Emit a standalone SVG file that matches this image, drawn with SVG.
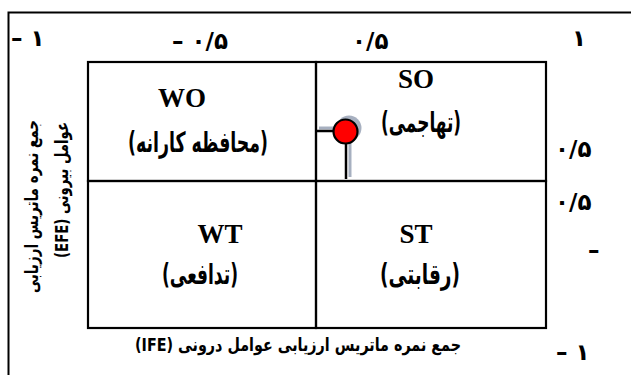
<svg xmlns="http://www.w3.org/2000/svg" width="631" height="375" viewBox="0 0 631 375">
  <style>
    .frame { fill: none; stroke: #000; stroke-width: 2; }
    .grid { fill: none; stroke: #000; stroke-width: 2.2; }
    .num { font-family: "DejaVu Sans", sans-serif; font-weight: bold; font-size: 23px; fill: #000; }
    .code { font-family: "Liberation Serif", serif; font-weight: bold; font-size: 27px; fill: #000; text-anchor: middle; }
    .fa { font-family: "DejaVu Sans", sans-serif; font-weight: bold; font-size: 28px; fill: #000; text-anchor: middle; direction: rtl; }
    .axis { font-family: "DejaVu Sans", sans-serif; font-weight: bold; font-size: 18px; fill: #000; direction: rtl; }
    .shadow { stroke: #a7b0c0; }
  </style>

  <!-- outer frame: only left and top edges fall inside the canvas -->
  <path class="frame" d="M8.5,375 V12.5 H631"/>

  <!-- scale labels along the top -->
  <g id="top-scale">
    <text class="num" x="11" y="46">– ۱</text>
    <text class="num" x="172" y="49">– ۰/۵</text>
    <text class="num" x="352" y="49">۰/۵</text>
    <text class="num" x="572" y="46">۱</text>
  </g>

  <!-- scale labels along the right -->
  <g id="right-scale">
    <text class="num" x="555" y="157">۰/۵</text>
    <text class="num" x="555" y="210">۰/۵</text>
    <text class="num" x="588" y="258">–</text>
    <text class="num" x="556" y="360">– ۱</text>
  </g>

  <!-- quadrants -->
  <g id="WO">
    <rect class="grid" x="88" y="62" width="228" height="119"/>
    <text class="code" x="182" y="107">WO</text>
    <text class="fa" x="198" y="152" textLength="140" lengthAdjust="spacingAndGlyphs">(محافظه کارانه)</text>
  </g>
  <g id="SO">
    <rect class="grid" x="316" y="62" width="230" height="119"/>
    <text class="code" x="416" y="88">SO</text>
    <text class="fa" x="421" y="132" textLength="80" lengthAdjust="spacingAndGlyphs">(تهاجمی)</text>
  </g>
  <g id="WT">
    <rect class="grid" x="88" y="181" width="228" height="147"/>
    <text class="code" x="220" y="243">WT</text>
    <text class="fa" x="200" y="284" textLength="76" lengthAdjust="spacingAndGlyphs">(تدافعی)</text>
  </g>
  <g id="ST">
    <rect class="grid" x="316" y="181" width="230" height="147"/>
    <text class="code" x="416" y="243">ST</text>
    <text class="fa" x="420" y="284" textLength="80" lengthAdjust="spacingAndGlyphs">(رقابتی)</text>
  </g>

  <!-- position marker with its drop shadow -->
  <g id="connectors">
    <g class="shadow" stroke-width="3" fill="none">
      <line x1="319" y1="128" x2="336" y2="128"/>
      <line x1="350" y1="140" x2="350" y2="177"/>
    </g>
    <circle cx="349" cy="128" r="12.5" fill="#a7b0c0"/>
    <line x1="316" y1="131" x2="334" y2="131" stroke="#000" stroke-width="2.5"/>
    <line x1="346" y1="143" x2="346" y2="179" stroke="#000" stroke-width="2.5"/>
  </g>
  <g id="marker">
    <circle cx="345.5" cy="131.5" r="12" fill="#ff0000" stroke="#000" stroke-width="2.2"/>
  </g>

  <!-- axis titles -->
  <g id="axis-efe">
    <text class="axis" transform="translate(38,120) rotate(-90)" text-anchor="start" textLength="173" lengthAdjust="spacingAndGlyphs">جمع نمره ماتریس ارزیابی</text>
    <text class="axis" transform="translate(68,122) rotate(-90)" text-anchor="start" textLength="136" lengthAdjust="spacingAndGlyphs">عوامل بیرونی (EFE)</text>
  </g>
  <g id="axis-ife">
    <text class="axis" x="298" y="351" text-anchor="middle" textLength="326" lengthAdjust="spacingAndGlyphs">جمع نمره ماتریس ارزیابی عوامل درونی (IFE)</text>
  </g>
</svg>
